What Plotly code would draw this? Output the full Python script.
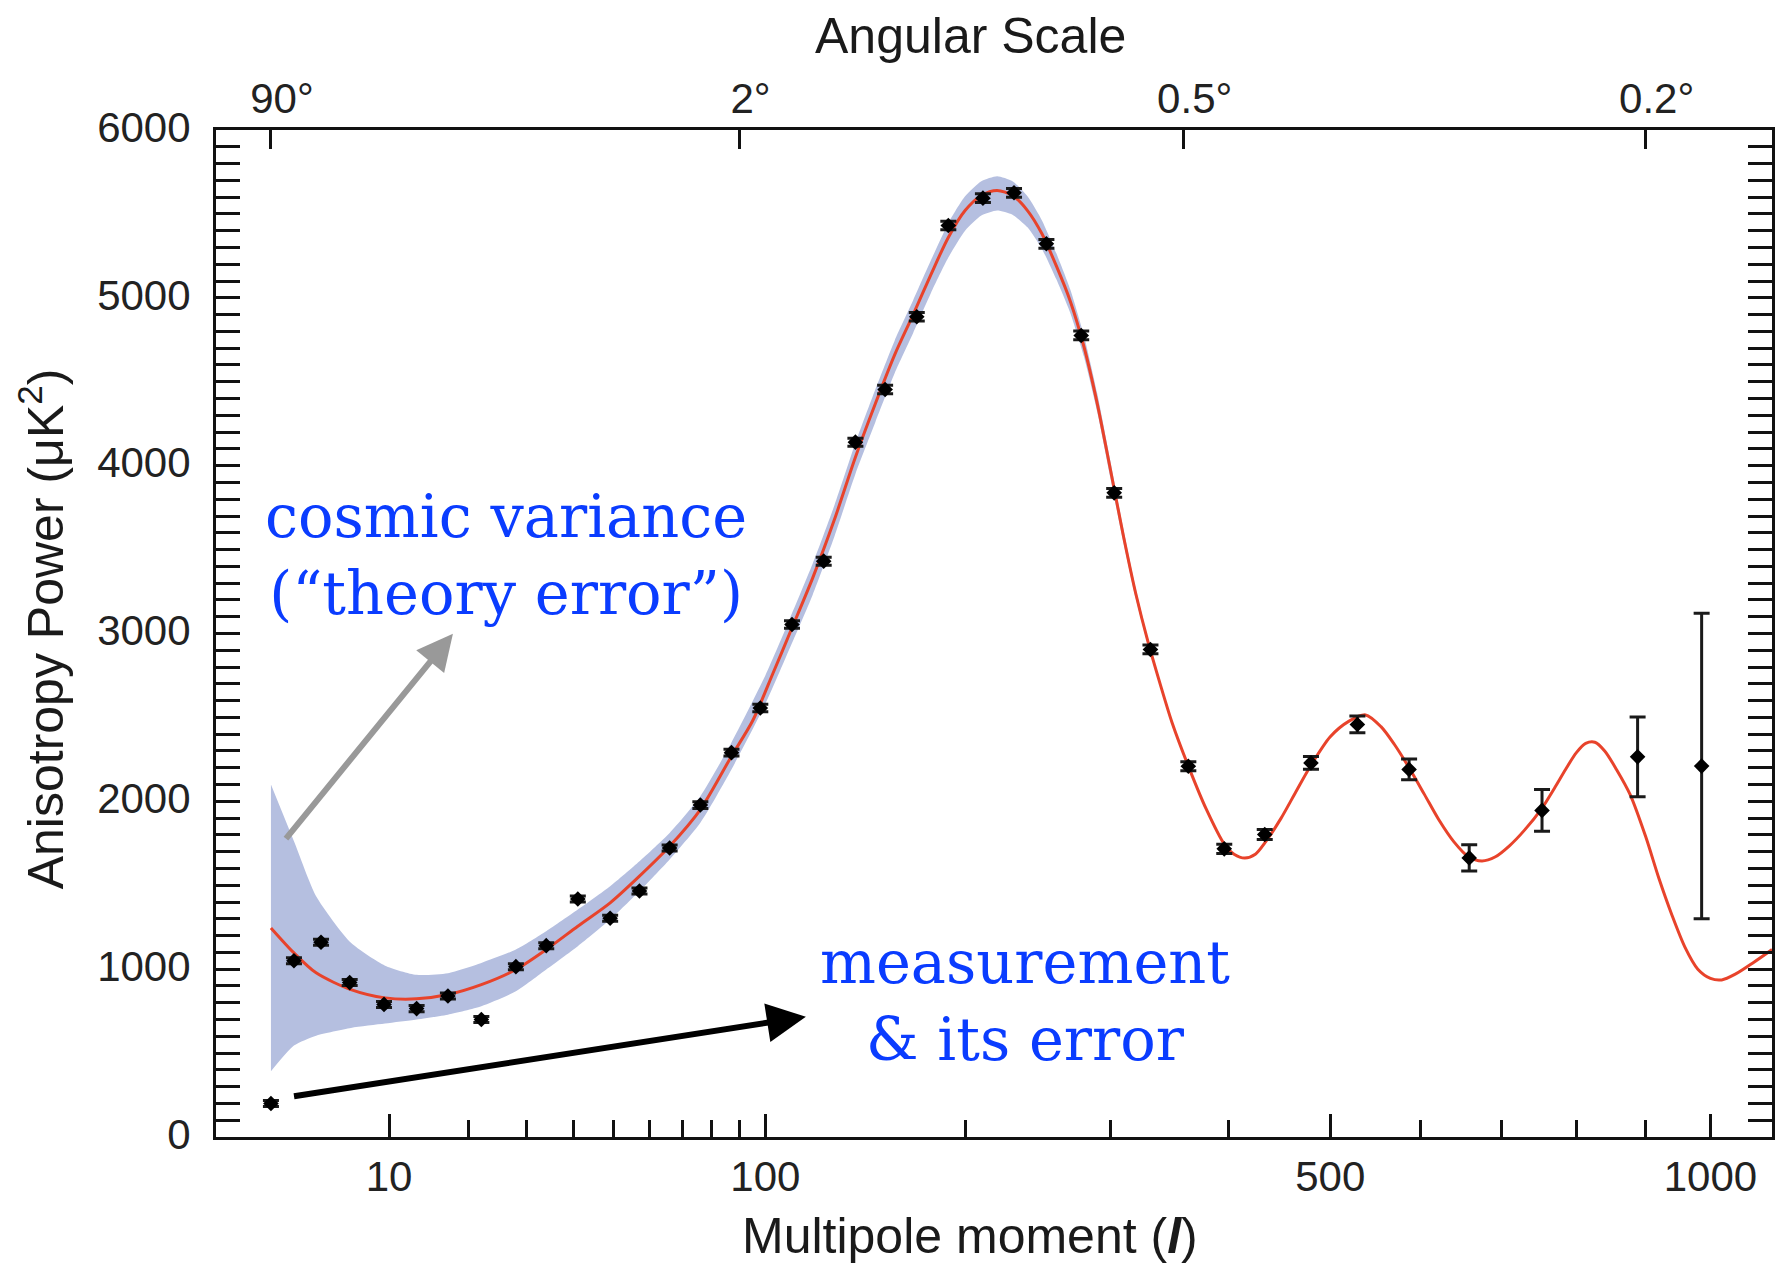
import numpy as np
import plotly.graph_objects as go

# ---------------- data ----------------
obs_l = [2, 3, 4.5, 6.5, 9.5, 13, 17, 22, 28, 34, 41, 49, 57, 66, 76, 87, 98,
         111, 125, 140, 155, 172, 190, 211, 231, 253, 278, 303, 332, 364, 396,
         434, 480, 529, 587, 659, 753, 888, 986]
obs_power = [200, 1050, 1160, 920, 790, 765, 840, 700, 1015, 1140, 1418, 1303,
             1466, 1722, 1978, 2290, 2556, 3054, 3431, 4140, 4454, 4887, 5431,
             5594, 5626, 5322, 4776, 3838, 2905, 2209, 1717, 1802, 2229, 2458,
             2190, 1663, 1946, 2265, 2210]
obs_err = [18, 18, 18, 18, 18, 18, 18, 18, 18, 18, 18, 18, 18, 18, 20, 20, 22,
           22, 24, 24, 25, 25, 26, 26, 26, 26, 26, 26, 26, 27, 28, 30, 38, 50,
           62, 78, 124, 238, 910]

theory_l = [2, 3, 4.2, 6.6, 9.6, 13, 17, 22, 28, 34, 41, 49, 57, 66, 76, 87, 95,
            103, 110, 120, 130, 140, 150, 160, 170, 180, 190, 200, 210, 220, 230,
            240, 250, 260, 270, 280, 290, 300, 310, 320, 330, 340, 350, 364, 380,
            396, 405, 415, 425, 435, 450, 465, 480, 500, 520, 538, 555, 570, 587,
            605, 622, 640, 658, 675, 692, 710, 730, 753, 770, 785, 800, 813, 826,
            840, 857, 877, 900, 920, 940, 960, 980, 1000, 1018, 1040, 1070, 1101]
theory_power = [1246, 1097, 978, 878, 829, 823, 849, 908, 998, 1117, 1256, 1395,
                1554, 1732, 1951, 2269, 2480, 2760, 3000, 3330, 3680, 4050, 4370,
                4660, 4900, 5140, 5360, 5520, 5610, 5640, 5610, 5520, 5380, 5190,
                4980, 4710, 4370, 3980, 3590, 3240, 2950, 2700, 2470, 2210, 1950,
                1745, 1685, 1662, 1685, 1760, 1900, 2060, 2215, 2385, 2478, 2515,
                2445, 2340, 2200, 2040, 1890, 1760, 1670, 1645, 1670, 1735, 1830,
                1960, 2080, 2190, 2290, 2345, 2352, 2300, 2190, 2040, 1790, 1540,
                1320, 1130, 1000, 945, 936, 970, 1040, 1117]

band_l = [2, 3, 4.2, 6.6, 9.6, 13, 17, 22, 28, 34, 41, 49, 57, 66, 76, 87, 100,
          110, 120, 130, 140, 150, 160, 170, 180, 190, 200, 210, 220, 230, 240,
          250, 260, 270, 280, 290, 300, 310, 320, 330, 340]
band_upper = [2100, 1762, 1435, 1157, 1021, 966, 976, 1037, 1117, 1226, 1355,
              1494, 1643, 1812, 2031, 2350, 2750, 3085, 3415, 3765, 4135, 4455,
              4745, 4985, 5225, 5445, 5605, 5695, 5725, 5695, 5605, 5460, 5265,
              5050, 4775, 4430, 4030, 3630, 3270, 2970, 2710]
band_lower = [392, 545, 604, 650, 676, 700, 729, 779, 868, 998, 1137, 1296, 1464,
              1653, 1872, 2190, 2580, 2910, 3230, 3580, 3950, 4260, 4550, 4790,
              5030, 5240, 5400, 5490, 5520, 5495, 5420, 5290, 5110, 4910, 4650,
              4320, 3930, 3550, 3210, 2930, 2690]

x_major_ticks = [10, 100, 500, 1000]
x_major_labels = ["10", "100", "500", "1000"]
x_minor_ticks = [20, 30, 40, 50, 60, 70, 80, 90, 200, 300, 400, 600, 700, 800, 900]
angle_tick_l = [2, 90, 360, 900]
angle_labels = ["90°", "2°", "0.5°", "0.2°"]
y_ticks = [0, 1000, 2000, 3000, 4000, 5000, 6000]

# ---------------- axis scale: the original uses an l^0.4 stretched axis --------
SCALE_POWER = 0.4


def xs(vals):
    return np.asarray(vals, dtype=float) ** SCALE_POWER


X_RANGE = [0.765, 16.47]
SANS = "Liberation Sans, Arial, Helvetica, sans-serif"
SERIF = "DejaVu Serif, Century Schoolbook, serif"
BLUE = "#0a3cff"
TICK_FONT = dict(size=42, family=SANS, color="#222")
TITLE_FONT = dict(size=50, family=SANS, color="#1a1a1a")

fig = go.Figure()

# cosmic variance band
fig.add_trace(go.Scatter(
    x=np.concatenate([xs(band_l), xs(band_l)[::-1]]),
    y=list(band_upper) + list(band_lower)[::-1],
    fill="toself", fillcolor="rgb(181,191,224)",
    line=dict(width=0, shape="spline", smoothing=0.6),
    mode="lines", hoverinfo="skip", showlegend=False))

# theory curve
fig.add_trace(go.Scatter(
    x=xs(theory_l), y=theory_power, mode="lines",
    line=dict(color="#e8432b", width=3, shape="spline", smoothing=0.8),
    showlegend=False))

# measurements
fig.add_trace(go.Scatter(
    x=xs(obs_l), y=obs_power, mode="markers",
    marker=dict(symbol="diamond", size=12, color="black"),
    error_y=dict(type="data", array=obs_err, color="#1a1a1a", thickness=3, width=8),
    showlegend=False))

# dummy trace for the top axis
fig.add_trace(go.Scatter(x=[X_RANGE[0]], y=[0], xaxis="x2", mode="markers",
                         marker=dict(opacity=0), showlegend=False, hoverinfo="skip"))

fig.update_layout(
    width=1786, height=1267,
    margin=dict(l=216, r=11, t=130, b=130),
    paper_bgcolor="white", plot_bgcolor="white",
    font=dict(family=SANS, color="#1a1a1a"),
    xaxis=dict(
        range=X_RANGE, showgrid=False, zeroline=False,
        showline=True, linecolor="#111", linewidth=3,
        tickmode="array", tickvals=xs(x_major_ticks), ticktext=x_major_labels,
        ticks="inside", ticklen=23, tickwidth=2.5, tickcolor="#111",
        tickfont=TICK_FONT, ticklabelstandoff=1,
        minor=dict(tickmode="array", tickvals=xs(x_minor_ticks), ticks="inside",
                   ticklen=17, tickwidth=2.5, tickcolor="#111", showgrid=False),
    ),
    xaxis2=dict(
        overlaying="x", side="top", range=X_RANGE, showgrid=False, zeroline=False,
        showline=True, linecolor="#111", linewidth=3,
        tickmode="array", tickvals=xs(angle_tick_l), ticktext=angle_labels,
        ticks="inside", ticklen=19, tickwidth=2.5, tickcolor="#111",
        tickfont=TICK_FONT, ticklabelstandoff=-3, ticklabelshift=11,
    ),
    yaxis=dict(
        range=[0, 6000], showgrid=False, zeroline=False,
        showline=True, linecolor="#111", linewidth=3, mirror="allticks",
        tickmode="array", tickvals=y_ticks,
        ticks="inside", ticklen=24, tickwidth=2.5, tickcolor="#111",
        tickfont=TICK_FONT, ticklabelstandoff=14, ticklabelshift=-3,
        minor=dict(dtick=100, ticks="inside", ticklen=12, tickwidth=2.5,
                   tickcolor="#111", showgrid=False),
    ),
)

# axis titles (placed as annotations to match the reference positions)
fig.add_annotation(text="Angular Scale", xref="paper", yref="paper",
                   x=0.4846, y=1.0934, xanchor="center", yanchor="middle",
                   showarrow=False, font=TITLE_FONT)
fig.add_annotation(text="Multipole moment (<b><i>l</i></b>)", xref="paper", yref="paper",
                   x=0.4846, y=-0.0983, xanchor="center", yanchor="middle",
                   showarrow=False, font=TITLE_FONT)
fig.add_annotation(text="Anisotropy Power (μK<sup>2</sup>)", xref="paper", yref="paper",
                   x=-0.1116, y=0.5045, xanchor="center", yanchor="middle",
                   showarrow=False, textangle=-90, font=TITLE_FONT)

# explanatory notes
fig.add_annotation(text="cosmic variance<br>(“theory error”)",
                   x=float(xs(26.2)), y=3465, xref="x", yref="y",
                   xanchor="center", yanchor="middle", showarrow=False,
                   font=dict(size=59, family=SERIF, color=BLUE), align="center")
fig.add_annotation(text="measurement<br>&amp; its error",
                   x=float(xs(238.5)), y=813, xref="x", yref="y",
                   xanchor="center", yanchor="middle", showarrow=False,
                   font=dict(size=59, family=SERIF, color=BLUE), align="center")

# arrows
fig.add_annotation(text="", x=float(xs(17.7)), y=2998, ax=float(xs(2.57)), ay=1769,
                   xref="x", yref="y", axref="x", ayref="y", showarrow=True,
                   arrowhead=2, arrowsize=1.2, arrowwidth=6, arrowcolor="#999999")
fig.add_annotation(text="", x=float(xs(117)), y=717, ax=float(xs(2.93)), ay=241,
                   xref="x", yref="y", axref="x", ayref="y", showarrow=True,
                   arrowhead=2, arrowsize=1.3, arrowwidth=6, arrowcolor="black")

fig.write_html("out.html")
